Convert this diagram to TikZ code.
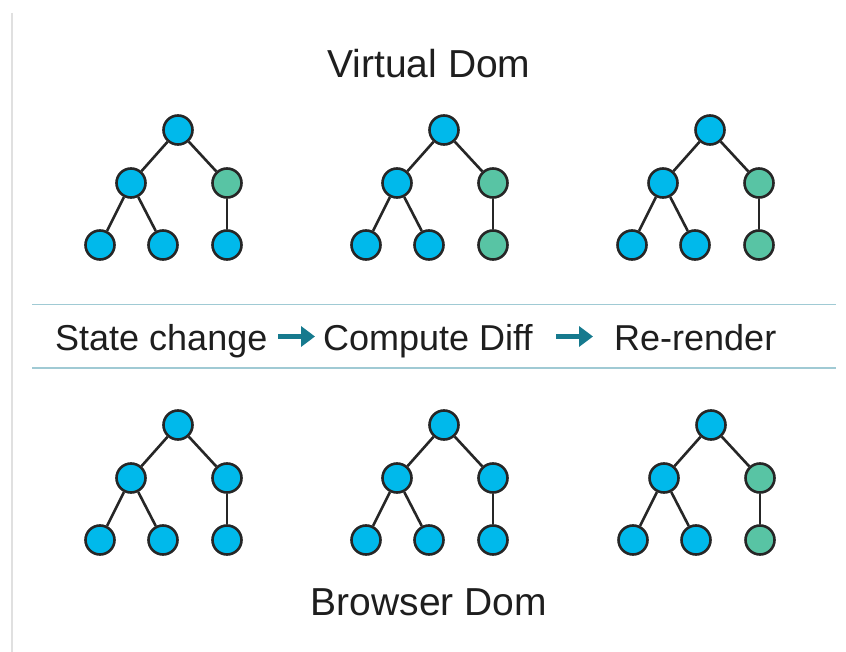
\documentclass[tikz,border=0pt]{standalone}
\usepackage{fontspec}
\setmainfont{Liberation Sans}
\usetikzlibrary{arrows.meta}
\definecolor{nodeblue}{RGB}{0,185,235}
\definecolor{nodegreen}{RGB}{88,196,164}
\definecolor{sepline}{RGB}{160,202,212}
\definecolor{arrowteal}{RGB}{22,122,142}
\definecolor{txt}{RGB}{30,30,30}
\tikzset{
  dom/.style={circle, draw=black!85, line width=2.6pt, minimum size=29pt, inner sep=0pt},
  bl/.style={dom, fill=nodeblue},
  gr/.style={dom, fill=nodegreen},
  edge/.style={draw=black!85, line width=2.6pt},
  title/.style={font=\fontsize{39}{44}\selectfont, text=txt, inner sep=0pt},
  steptext/.style={font=\fontsize{36}{40}\selectfont, text=txt, inner sep=0pt, anchor=base west},
  flow/.style={draw=arrowteal, line width=5pt, -{Triangle[length=14pt,width=20pt]}},
}
\newcommand{\domtree}[5]{% prefix, x, y, colour of mid-right, colour of right leaf
  \node[bl] (#1r) at (#2,#3) {};
  \node[bl] (#1a) at (#2-47,#3+53) {};
  \node[#4] (#1b) at (#2+49,#3+53) {};
  \node[bl] (#1c) at (#2-78,#3+115) {};
  \node[bl] (#1d) at (#2-15,#3+115) {};
  \node[#5] (#1e) at (#2+49,#3+115) {};
  \draw[edge] (#1r) -- (#1a);
  \draw[edge] (#1r) -- (#1b);
  \draw[edge] (#1a) -- (#1c);
  \draw[edge] (#1a) -- (#1d);
  \draw[edge] (#1b) -- (#1e);
}
\begin{document}
\begin{tikzpicture}[x=1pt,y=-1pt]
\useasboundingbox (0,0) rectangle (846,652);
\fill[white] (0,0) rectangle (846,652);
\draw[black!12, line width=2pt] (12,13) -- (12,652);
% titles
\node[title] (vdom) at (429,64) {Virtual Dom};
\node[title] (bdom) at (429,602) {Browser Dom};
% virtual dom trees
\domtree{va}{178}{130}{gr}{bl}
\domtree{vb}{444}{130}{gr}{gr}
\domtree{vc}{710}{130}{gr}{gr}
% browser dom trees
\domtree{ba}{178}{425}{bl}{bl}
\domtree{bb}{444}{425}{bl}{bl}
\domtree{bc}{711}{425}{gr}{gr}
% separator lines
\draw[sepline, line width=1.6pt] (32,304.5) -- (836,304.5);
\draw[sepline, line width=1.6pt] (32,368) -- (836,368);
% steps
\node[steptext] (s1) at (55,350) {State change};
\node[steptext] (s2) at (323,350) {Compute Diff};
\node[steptext] (s3) at (614,350) {Re-render};
\coordinate (a1s) at (278,336.5);
\coordinate (a1e) at (315,336.5);
\coordinate (a2s) at (556,336.5);
\coordinate (a2e) at (593,336.5);
\draw[flow] (a1s) -- (a1e);
\draw[flow] (a2s) -- (a2e);
\end{tikzpicture}
\end{document}
